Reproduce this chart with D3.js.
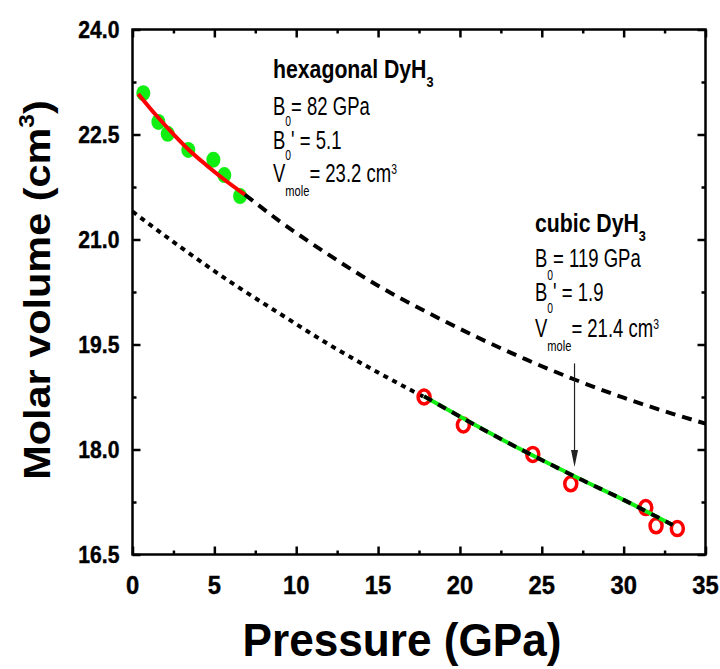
<!DOCTYPE html>
<html>
<head>
<meta charset="utf-8">
<script src="https://cdn.jsdelivr.net/npm/d3@7"></script>
<style>
  body { margin: 0; background: #fff; }
  text { font-family: "Liberation Sans", Arial, sans-serif; }
</style>
</head>
<body>
<svg id="chart" width="720" height="669"></svg>
<script>
'use strict';

// hexagonal DyH3 measured points (filled green)
var hexP = [0.66, 1.58, 2.15, 3.41, 4.94, 5.61, 6.57];
var hexV = [23.09, 22.68, 22.51, 22.28, 22.14, 21.92, 21.62];

// cubic DyH3 measured points (open red)
var cubP = [17.81, 20.21, 24.45, 26.77, 31.35, 31.98, 33.28];
var cubV = [18.75, 18.35, 17.93, 17.51, 17.17, 16.91, 16.87];

// hexagonal fit (red) and its extrapolation (dashed)
var hexFitP = [0.35, 1.5, 2.5, 3.4, 4.5, 5.5, 6.87];
var hexFitV = [23.08, 22.76, 22.505, 22.29, 22.065, 21.875, 21.64];
var hexEosP = [6.87, 9, 12, 15, 18, 21, 24, 27, 30, 33, 35];
var hexEosV = [21.64, 21.26, 20.78, 20.34, 19.96, 19.61, 19.29, 19.0, 18.74, 18.51, 18.37];

// cubic extrapolation to low pressure (dotted) and fit (green + dashes)
var cubEosP = [0, 3, 6, 9, 12, 15, 17.81];
var cubEosV = [21.40, 20.88, 20.39, 19.94, 19.50, 19.10, 18.75];
var cubFitP = [17.81, 20, 22.5, 25, 27.5, 30, 33];
var cubFitV = [18.76, 18.47, 18.15, 17.85, 17.56, 17.28, 16.92];

// arrow: pressure, start volume, end volume
var arrowP = 27;
var arrowV = [19.23, 17.75];

var xTicks = [0, 5, 10, 15, 20, 25, 30, 35];
var xMinor = [2.5, 7.5, 12.5, 17.5, 22.5, 27.5, 32.5];
var yTicks = [16.5, 18.0, 19.5, 21.0, 22.5, 24.0];
var yMinor = [17.25, 18.75, 20.25, 21.75, 23.25];

var svg = d3.select('#chart');

var x = d3.scaleLinear().domain([0, 35]).range([132.5, 705.5]);
var y = d3.scaleLinear().domain([16.5, 24]).range([554.5, 29.5]);

function zip (a, b) {
  return a.map(function (v, i) { return [v, b[i]]; });
}

var line = d3.line()
  .x(function (d) { return x(d[0]); })
  .y(function (d) { return y(d[1]); })
  .curve(d3.curveMonotoneX);

// ---- axes (inward ticks on all four sides) ----
function drawAxis (axis, tx, ty, size, vals) {
  var g = svg.append('g')
    .attr('transform', 'translate(' + tx + ',' + ty + ')')
    .call(axis.tickValues(vals).tickSizeInner(size).tickSizeOuter(0).tickFormat(''));
  g.select('.domain').remove();
  g.selectAll('.tick line').attr('stroke', '#000').attr('stroke-width', 2.5);
}

[[xTicks, -8], [xMinor, -4]].forEach(function (t) {
  drawAxis(d3.axisBottom(x), 0, y(16.5), t[1], t[0]);
  drawAxis(d3.axisTop(x), 0, y(24), t[1], t[0]);
});
[[yTicks, -8], [yMinor, -4]].forEach(function (t) {
  drawAxis(d3.axisLeft(y), x(0), 0, t[1], t[0]);
  drawAxis(d3.axisRight(y), x(35), 0, t[1], t[0]);
});

svg.append('rect')
  .attr('x', x(0)).attr('y', y(24))
  .attr('width', x(35) - x(0)).attr('height', y(16.5) - y(24))
  .attr('fill', 'none').attr('stroke', '#000').attr('stroke-width', 2.5);

// tick labels
svg.append('g').selectAll('text').data(xTicks).join('text')
  .attr('transform', function (d) { return 'translate(' + x(d) + ',594) scale(0.95,1)'; })
  .attr('text-anchor', 'middle')
  .attr('font-size', 25).attr('font-weight', 'bold')
  .attr('stroke', '#000').attr('stroke-width', 0.4)
  .text(function (d) { return d; });

svg.append('g').selectAll('text').data(yTicks).join('text')
  .attr('transform', function (d) { return 'translate(119.5,' + (y(d) + 8.5) + ') scale(0.9,1)'; })
  .attr('text-anchor', 'end')
  .attr('font-size', 23.5).attr('font-weight', 'bold')
  .attr('stroke', '#000').attr('stroke-width', 0.4)
  .text(function (d) { return d3.format('.1f')(d); });

// axis titles
svg.append('text')
  .attr('transform', 'translate(402,656) scale(0.96,1)')
  .attr('text-anchor', 'middle')
  .attr('font-size', 46).attr('font-weight', 'bold')
  .text('Pressure (GPa)');

var yt = svg.append('text')
  .attr('transform', 'translate(50,290) rotate(-90) scale(1.12,1)')
  .attr('text-anchor', 'middle')
  .attr('font-size', 37).attr('font-weight', 'bold');
yt.append('tspan').text('Molar volume (cm');
yt.append('tspan').attr('font-size', 22).attr('dy', -16).text('3');
yt.append('tspan').attr('dy', 16).text(')');

// ---- data marks ----
svg.append('g').selectAll('ellipse').data(zip(hexP, hexV)).join('ellipse')
  .attr('cx', function (d) { return x(d[0]); })
  .attr('cy', function (d) { return y(d[1]); })
  .attr('rx', 7).attr('ry', 8)
  .attr('fill', '#11ee11');

svg.append('path').datum(zip(hexFitP, hexFitV))
  .attr('d', line).attr('fill', 'none')
  .attr('stroke', '#ff0000').attr('stroke-width', 4);

svg.append('path').datum(zip(hexEosP, hexEosV))
  .attr('d', line).attr('fill', 'none')
  .attr('stroke', '#000').attr('stroke-width', 4)
  .attr('stroke-dasharray', '10,7');

svg.append('path').datum(zip(cubEosP, cubEosV))
  .attr('d', line).attr('fill', 'none')
  .attr('stroke', '#000').attr('stroke-width', 4)
  .attr('stroke-dasharray', '5,5');

svg.append('g').selectAll('ellipse').data(zip(cubP, cubV)).join('ellipse')
  .attr('cx', function (d) { return x(d[0]); })
  .attr('cy', function (d) { return y(d[1]); })
  .attr('rx', 6).attr('ry', 7)
  .attr('fill', 'none').attr('stroke', '#ff0000').attr('stroke-width', 3.5);

svg.append('path').datum(zip(cubFitP, cubFitV))
  .attr('d', line).attr('fill', 'none')
  .attr('stroke', '#11ee11').attr('stroke-width', 4);
svg.append('path').datum(zip(cubFitP, cubFitV))
  .attr('d', line).attr('fill', 'none')
  .attr('stroke', '#000').attr('stroke-width', 4)
  .attr('stroke-dasharray', '9,7');

// arrow
var ax = x(arrowP), ay0 = y(arrowV[0]), ay1 = y(arrowV[1]);
svg.append('line')
  .attr('x1', ax).attr('x2', ax).attr('y1', ay0).attr('y2', ay1 - 14)
  .attr('stroke', '#222').attr('stroke-width', 1.2);
svg.append('path')
  .attr('d', 'M' + (ax - 3.5) + ',' + (ay1 - 17) + 'L' + (ax + 3.5) + ',' + (ay1 - 17) + 'L' + ax + ',' + ay1 + 'Z')
  .attr('fill', '#222');

// ---- annotations ----
function note (tx, ty, bold, parts) {
  var sx = bold ? 0.85 : 0.74;
  var t = svg.append('text')
    .attr('transform', 'translate(' + tx + ',' + ty + ') scale(' + sx + ',1)')
    .attr('font-size', 25)
    .attr('font-weight', bold ? 'bold' : 'normal');
  var shift = 0;
  parts.forEach(function (p) {
    var target = p.sub ? p.sub : (p.sup ? -p.sup : 0);
    var s = t.append('tspan').attr('dy', target - shift).text(p.t);
    if (p.size) s.attr('font-size', p.size);
    shift = target;
  });
}

note(273, 78, true, [{t: 'hexagonal DyH'}, {t: '3', sub: 9, size: 15}]);
note(273, 115, false, [{t: 'B'}, {t: '0', sub: 11, size: 14}, {t: '= 82 GPa'}]);
note(273, 148.5, false, [{t: 'B'}, {t: '0', sub: 11, size: 14}, {t: '\' = 5.1'}]);
note(273, 182, false, [{t: 'V'}, {t: 'mole', sub: 14, size: 15}, {t: '= 23.2 cm'}, {t: '3', sup: 8, size: 14}]);

note(535, 232, true, [{t: 'cubic DyH'}, {t: '3', sub: 9, size: 15}]);
note(535, 267, false, [{t: 'B'}, {t: '0', sub: 13, size: 14}, {t: '= 119 GPa'}]);
note(535, 300.5, false, [{t: 'B'}, {t: '0', sub: 13, size: 14}, {t: '\' = 1.9'}]);
note(535, 337, false, [{t: 'V'}, {t: 'mole', sub: 14, size: 15}, {t: '= 21.4 cm'}, {t: '3', sup: 8, size: 14}]);
</script>
</body>
</html>
